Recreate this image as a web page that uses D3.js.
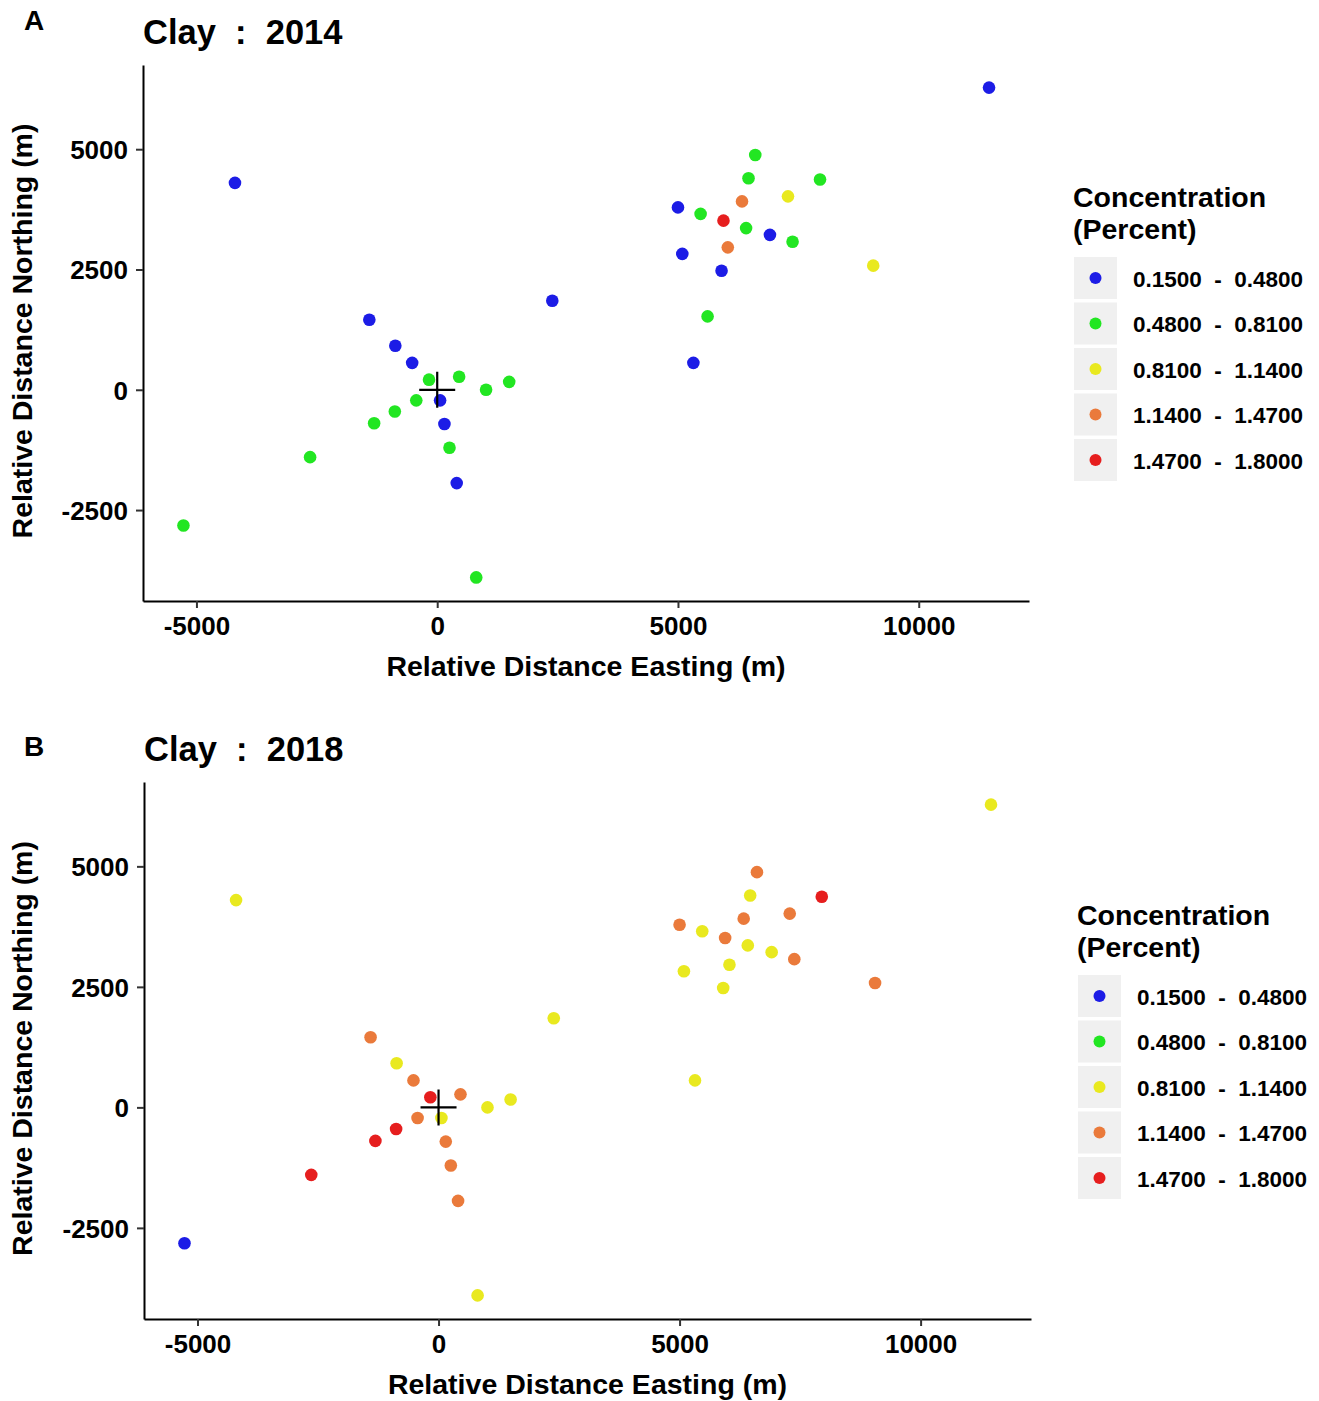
<!DOCTYPE html>
<html>
<head>
<meta charset="utf-8">
<title>Clay concentration 2014 / 2018</title>
<script src="https://cdn.jsdelivr.net/npm/d3@7"></script>
<style>
  html, body { margin: 0; padding: 0; background: #ffffff; }
  svg { display: block; }
  text { font-family: "Liberation Sans", Arial, sans-serif; font-weight: bold; fill: #000; }
</style>
</head>
<body>
<svg id="chart" width="1319" height="1401"></svg>
<script>
// Sampling sites: position relative to the reference point (m)
const siteEasting = [
  11460, -4200, 2390, -1410, -870, -520, -170, 455, 1015, 1495,
  60, -435, -880, -1310, 150, 255, 405, -2640, -5270, 810,
  6605, 6465, 7950, 7285, 6330, 5000, 5470, 5945, 6415, 6910,
  7380, 6035, 5090, 5905, 9055, 5615, 5320
];
const siteNorthing = [
  6280, 4300, 1850, 1455, 915, 560, 210, 270, 0, 165,
  -220, -220, -450, -695, -710, -1205, -1940, -1400, -2820, -3900,
  4880, 4395, 4370, 4020, 3915, 3790, 3655, 3515, 3360, 3220,
  3075, 2960, 2825, 2475, 2580, 1525, 560
];

// Clay concentration (percent) per site and year; null = not sampled
const clay2014 = [
  0.34, 0.29, 0.41, 0.37, 0.44, 0.31, 0.62, 0.58, 0.71, 0.66,
  0.43, 0.55, 0.69, 0.61, 0.39, 0.74, 0.27, 0.57, 0.52, 0.63,
  0.77, 0.68, 0.59, 0.93, 1.26, 0.36, 0.64, 1.58, 0.72, 0.42,
  0.61, 1.21, 0.33, 0.45, 0.88, 0.67, 0.23
];
const clay2018 = [
  0.97, 1.02, 0.89, 1.32, 1.08, 1.25, 1.55, 1.38, 0.94, 1.05,
  0.91, 1.19, 1.61, 1.52, 1.29, 1.36, 1.22, 1.67, 0.21, 0.86,
  1.41, 1.03, 1.53, 1.27, 1.34, 1.18, 0.99, 1.24, 1.06, 0.92,
  1.31, 1.11, 0.95, 0.87, 1.23, null, 0.90
];

// Concentration classes
const classBreaks = [0.48, 0.81, 1.14, 1.47];
const classLabels = [
  "0.1500  -  0.4800",
  "0.4800  -  0.8100",
  "0.8100  -  1.1400",
  "1.1400  -  1.4700",
  "1.4700  -  1.8000"
];
const classColors = ["#1c1ce6", "#22e622", "#e9e91f", "#ea7a3b", "#e61e1e"];

const xTicks = [-5000, 0, 5000, 10000];
const yTicks = [-2500, 0, 2500, 5000];
const xDomain = [-6110, 12290];
const yDomain = [-4390, 6750];

const panels = [
  { tag: "A", title: "Clay  :  2014", values: clay2014,
    left: 143, right: 1029, top: 65, bottom: 601,
    tagPos: [24, 30], legendX: 1074, legendY: 207 },
  { tag: "B", title: "Clay  :  2018", values: clay2018,
    left: 144, right: 1031, top: 782, bottom: 1319,
    tagPos: [24, 756], legendX: 1078, legendY: 925 }
];

const svg = d3.select("#chart");
svg.append("rect").attr("width", 1319).attr("height", 1401).attr("fill", "#fff");

const colour = d3.scaleThreshold().domain(classBreaks).range(classColors);
const plainNumber = d => String(d);   // ASCII hyphen for negatives

panels.forEach(p => {
  const g = svg.append("g");
  const x = d3.scaleLinear().domain(xDomain).range([p.left, p.right]);
  const y = d3.scaleLinear().domain(yDomain).range([p.bottom, p.top]);

  // panel tag and title
  g.append("text").attr("x", p.tagPos[0]).attr("y", p.tagPos[1])
    .attr("font-size", 28).text(p.tag);
  g.append("text").attr("x", p.left).attr("y", p.top - 21)
    .attr("font-size", 34.5).style("white-space", "pre").text(p.title);

  // axes
  const xAxis = g.append("g").attr("transform", `translate(0,${p.bottom})`)
    .call(d3.axisBottom(x).tickValues(xTicks).tickFormat(plainNumber)
      .tickSizeOuter(0).tickSizeInner(7).tickPadding(8));
  const yAxis = g.append("g").attr("transform", `translate(${p.left},0)`)
    .call(d3.axisLeft(y).tickValues(yTicks).tickFormat(plainNumber)
      .tickSizeOuter(0).tickSizeInner(7).tickPadding(8));
  [xAxis, yAxis].forEach(a => {
    a.select(".domain").attr("stroke", "#000").attr("stroke-width", 2);
    a.selectAll(".tick line").attr("stroke", "#333").attr("stroke-width", 2);
    a.selectAll(".tick text")
      .attr("font-size", 26).attr("font-family", null).attr("fill", "#111");
  });
  xAxis.selectAll(".tick text").attr("dy", "0.72em");
  yAxis.selectAll(".tick text").attr("dy", "0.36em");

  // axis titles
  g.append("text")
    .attr("x", (p.left + p.right) / 2).attr("y", p.bottom + 75)
    .attr("text-anchor", "middle").attr("font-size", 28.5)
    .text("Relative Distance Easting (m)");
  g.append("text")
    .attr("transform", `translate(32,${(p.top + p.bottom) / 2 - 2}) rotate(-90)`)
    .attr("text-anchor", "middle").attr("font-size", 28.5)
    .text("Relative Distance Northing (m)");

  // sampling points
  const pts = siteEasting.map((e, i) => ({ e, n: siteNorthing[i], v: p.values[i] }))
    .filter(d => d.v !== null);
  g.append("g").selectAll("circle").data(pts).join("circle")
    .attr("cx", d => x(d.e)).attr("cy", d => y(d.n)).attr("r", 6.3)
    .attr("fill", d => colour(d.v));

  // reference point marker
  const cx = x(0), cy = y(0), h = 18;
  g.append("path")
    .attr("d", `M${cx - h},${cy}H${cx + h}M${cx},${cy - h}V${cy + h}`)
    .attr("stroke", "#000").attr("stroke-width", 2.2).attr("fill", "none");

  // legend
  const lg = g.append("g").attr("transform", `translate(${p.legendX},${p.legendY})`);
  lg.append("text").attr("x", -1).attr("y", 0).attr("font-size", 28.5).text("Concentration");
  lg.append("text").attr("x", -1).attr("y", 32).attr("font-size", 28.5).text("(Percent)");
  const rowStep = 45.5, firstRow = 71;
  const rows = lg.selectAll("g.row").data(classLabels).join("g")
    .attr("class", "row")
    .attr("transform", (d, i) => `translate(0,${firstRow + i * rowStep})`);
  rows.append("rect").attr("x", 0).attr("y", -21).attr("width", 43).attr("height", 42)
    .attr("fill", "#f0f0f0");
  rows.append("circle").attr("cx", 21.5).attr("cy", 0).attr("r", 6)
    .attr("fill", (d, i) => classColors[i]);
  rows.append("text").attr("x", 59).attr("y", 8.5).attr("font-size", 22.5)
    .style("white-space", "pre").text(d => d);
});
</script>
</body>
</html>
